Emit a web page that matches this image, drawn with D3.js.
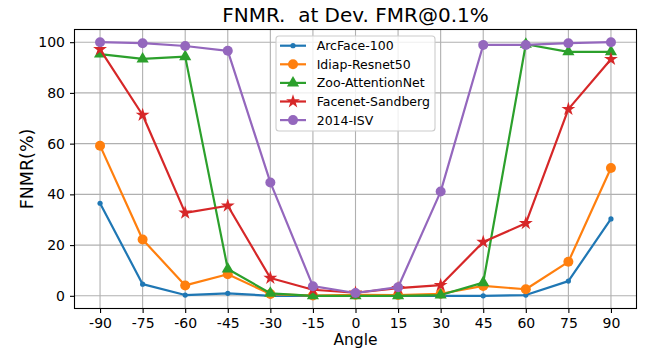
<!DOCTYPE html>
<html>
<head>
<meta charset="utf-8">
<script src="https://cdn.jsdelivr.net/npm/d3@7"></script>
<style>
  html, body { margin: 0; padding: 0; background: #fff; }
  svg { display: block; font-family: "DejaVu Sans", sans-serif; }
</style>
</head>
<body>
<svg id="chart" width="646" height="350"></svg>
<script>
const angles = [-90, -75, -60, -45, -30, -15, 0, 15, 30, 45, 60, 75, 90];
const yTicks = [0, 20, 40, 60, 80, 100];

const arcface   = [36.5, 4.6, 0.3, 1.0, 0.0, 0.0, 0.0, 0.0, 0.0, 0.0, 0.3, 5.8, 30.3];
const idiap     = [59.2, 22.2, 4.1, 8.5, 0.7, 0.1, 0.4, 0.3, 0.8, 3.9, 2.6, 13.4, 50.4];
const zoo       = [95.3, 93.4, 94.3, 10.6, 1.0, 0.0, 0.0, 0.0, 0.3, 5.2, 99.2, 96.2, 96.2];
const facenet   = [97.2, 71.3, 32.7, 35.5, 7.0, 2.4, 1.2, 3.0, 4.2, 21.2, 28.6, 73.6, 93.3];
const isv       = [100.0, 99.6, 98.5, 96.6, 44.7, 3.8, 1.1, 3.4, 41.1, 98.9, 98.9, 99.6, 100.0];

const seriesNames = ["ArcFace-100", "Idiap-Resnet50", "Zoo-AttentionNet", "Facenet-Sandberg", "2014-ISV"];
const seriesValues = [arcface, idiap, zoo, facenet, isv];
const seriesColors = ["#1f77b4", "#ff7f0e", "#2ca02c", "#d62728", "#9467bd"];
const seriesMarkers = ["dot", "circle", "triangle", "star", "circle"];

const svg = d3.select("#chart");
const m = { left: 74.5, right: 636.5, top: 29.5, bottom: 308.5 };

const x = d3.scaleLinear().domain([-99, 99]).range([m.left, m.right]);
const y = d3.scaleLinear().domain([-5, 105]).range([m.bottom, m.top]);

// grid
const g = svg.append("g");
g.selectAll("line.vg").data(angles).enter().append("line")
  .attr("x1", d => x(d)).attr("x2", d => x(d))
  .attr("y1", m.top).attr("y2", m.bottom)
  .attr("stroke", "#b0b0b0").attr("stroke-width", 1.1);
g.selectAll("line.hg").data(yTicks).enter().append("line")
  .attr("y1", d => y(d)).attr("y2", d => y(d))
  .attr("x1", m.left).attr("x2", m.right)
  .attr("stroke", "#b0b0b0").attr("stroke-width", 1.1);

// axes
const xAxis = d3.axisBottom(x).tickValues(angles).tickFormat(d3.format("d")).tickSize(4.5).tickPadding(5);
const yAxis = d3.axisLeft(y).tickValues(yTicks).tickFormat(d3.format("d")).tickSize(4.5).tickPadding(5);

const gx = svg.append("g").attr("transform", `translate(0,${m.bottom})`).call(xAxis);
const gy = svg.append("g").attr("transform", `translate(${m.left},0)`).call(yAxis);
[gx, gy].forEach(a => {
  a.select(".domain").remove();
  a.selectAll("text").attr("font-size", 14).attr("fill", "#000").attr("font-family", "DejaVu Sans");
  a.selectAll("line").attr("stroke", "#000").attr("stroke-width", 1.1);
});
gx.selectAll("text").text(d => d < 0 ? "-" + Math.abs(d) : d);

// lines & markers
const line = d3.line().x((d, i) => x(angles[i])).y(d => y(d));
const star = d3.symbol().type(d3.symbolStar).size(60);
const tri = d3.symbol().type(d3.symbolTriangle).size(64);

function drawMarker(sel, type, color, cx, cy) {
  if (type === "dot") {
    sel.append("circle").attr("cx", cx).attr("cy", cy).attr("r", 2.6).attr("fill", color);
  } else if (type === "circle") {
    sel.append("circle").attr("cx", cx).attr("cy", cy).attr("r", 5).attr("fill", color);
  } else if (type === "triangle") {
    sel.append("path").attr("d", tri()).attr("transform", `translate(${cx},${cy})`).attr("fill", color);
  } else if (type === "star") {
    sel.append("path").attr("d", star()).attr("transform", `translate(${cx},${cy})`).attr("fill", color);
  }
}

const plot = svg.append("g");
seriesValues.forEach((vals, si) => {
  const gs = plot.append("g");
  gs.append("path").datum(vals).attr("d", line)
    .attr("fill", "none").attr("stroke", seriesColors[si]).attr("stroke-width", 2.2)
    .attr("stroke-linejoin", "round");
  vals.forEach((v, i) => drawMarker(gs, seriesMarkers[si], seriesColors[si], x(angles[i]), y(v)));
});

// spines
svg.append("rect").attr("x", m.left).attr("y", m.top)
  .attr("width", m.right - m.left).attr("height", m.bottom - m.top)
  .attr("fill", "none").attr("stroke", "#000").attr("stroke-width", 1.1);

// title & labels
svg.append("text").attr("x", (m.left + m.right) / 2).attr("y", 22)
  .attr("text-anchor", "middle").attr("font-size", 20)
  .style("white-space", "pre").text("FNMR.  at Dev. FMR@0.1%");
svg.append("text").attr("x", (m.left + m.right) / 2).attr("y", 345)
  .attr("text-anchor", "middle").attr("font-size", 15.5).text("Angle");
svg.append("text").attr("transform", `translate(33,${(m.top + m.bottom) / 2}) rotate(-90)`)
  .attr("text-anchor", "middle").attr("font-size", 17.5).text("FNMR(%)");

// legend
const lg = svg.append("g").attr("transform", "translate(276,36)");
lg.append("rect").attr("x", 0).attr("y", 0).attr("width", 159).attr("height", 95)
  .attr("rx", 3).attr("fill", "#fff").attr("fill-opacity", 0.8)
  .attr("stroke", "#cccccc").attr("stroke-width", 1.1);
seriesNames.forEach((name, i) => {
  const ry = 9.7 + i * 18.6;
  lg.append("line").attr("x1", 4).attr("x2", 30).attr("y1", ry).attr("y2", ry)
    .attr("stroke", seriesColors[i]).attr("stroke-width", 2.2);
  drawMarker(lg, seriesMarkers[i], seriesColors[i], 17, ry);
  lg.append("text").attr("x", 40.7).attr("y", ry + 4.4).attr("font-size", 12.5).text(name);
});
</script>
</body>
</html>
